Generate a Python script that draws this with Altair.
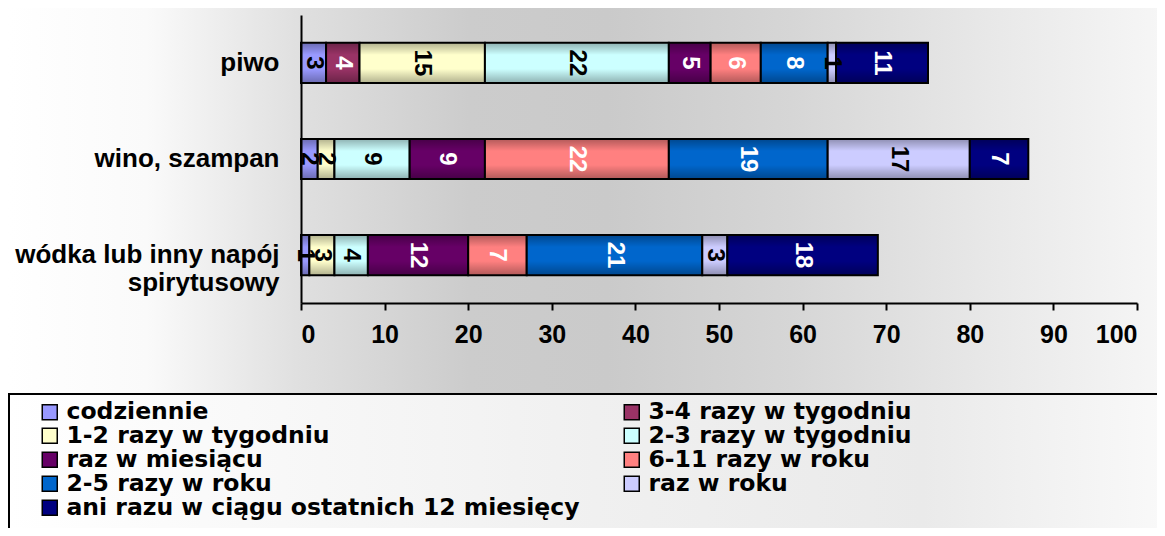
import altair as alt
import pandas as pd

cats = ["piwo", "wino, szampan", "wódka lub inny napój|spirytusowy" + "\u00a0" * 8]
series = ["codziennie", "3-4 razy w tygodniu", "1-2 razy w tygodniu", "2-3 razy w tygodniu",
          "raz w miesiącu", "6-11 razy w roku", "2-5 razy w roku", "raz w roku",
          "ani razu w ciągu ostatnich 12 miesięcy"]
colors = ["#9999FF", "#993366", "#FFFFCC", "#CCFFFF", "#660066", "#FF8080", "#0066CC", "#CCCCFF", "#000080"]
dark_series = ["3-4 razy w tygodniu", "raz w miesiącu", "6-11 razy w roku", "2-5 razy w roku",
               "ani razu w ciągu ostatnich 12 miesięcy"]
# legend fills its two columns top-down, so list entries column by column
legend_order = ["codziennie", "1-2 razy w tygodniu", "raz w miesiącu", "2-5 razy w roku",
                "ani razu w ciągu ostatnich 12 miesięcy",
                "3-4 razy w tygodniu", "2-3 razy w tygodniu", "6-11 razy w roku", "raz w roku"]
x_ticks = [0, 10, 20, 30, 40, 50, 60, 70, 80, 90, 100]

# values per series: [piwo, wino, wódka]
codziennie = [3, 2, 1]
r34_tydz = [4, 0, 0]
r12_tydz = [15, 2, 3]
r23_tydz = [22, 9, 4]
raz_mies = [5, 9, 12]
r611_rok = [6, 22, 7]
r25_rok = [8, 19, 21]
raz_rok = [1, 17, 3]
ani_razu = [11, 7, 18]
vals = [codziennie, r34_tydz, r12_tydz, r23_tydz, raz_mies, r611_rok, r25_rok, raz_rok, ani_razu]

rows = []
for si, s in enumerate(series):
    for ci, c in enumerate(cats):
        rows.append({"cat": c, "series": s, "value": vals[si][ci], "ord": si})
df = pd.DataFrame(rows)

color_of = dict(zip(series, colors))
legend_colors = [color_of[s] for s in legend_order]

FONT = "Liberation Sans"
LFONT = "DejaVu Sans"
W, H = 836, 288

xscale = alt.Scale(domain=[0, 100], nice=False)
yscale = alt.Scale(paddingInner=0.583, paddingOuter=0.29)

xaxis = alt.Axis(title=None, values=x_ticks, grid=False, zindex=2,
                 domainColor="black", domainWidth=2, tickColor="black", tickWidth=2, tickSize=7,
                 labelFont=FONT, labelFontWeight="bold", labelColor="black",
                 labelFontSize=25, labelPadding=12)
yaxis = alt.Axis(title=None, labelExpr="split(datum.label, '|')", zindex=2,
                 domainColor="black", domainWidth=2, ticks=False,
                 labelFont=FONT, labelFontWeight="bold", labelColor="black",
                 labelFontSize=26, labelPadding=22, labelLineHeight=28, labelLimit=400)

base = alt.Chart(df).transform_filter("datum.value > 0")

bg = alt.Chart(alt.Data(values=[{}])).mark_rect(
    fill=alt.LinearGradient(gradient="linear", x1=0, y1=0, x2=1, y2=0, stops=[
        alt.GradientStop(offset=0, color="#ffffff"),
        alt.GradientStop(offset=0.12, color="#fafafa"),
        alt.GradientStop(offset=0.25, color="#e0e0e0"),
        alt.GradientStop(offset=0.40, color="#cccccc"),
        alt.GradientStop(offset=0.52, color="#cacaca"),
        alt.GradientStop(offset=0.68, color="#d6d6d6"),
        alt.GradientStop(offset=0.85, color="#e8e8e8"),
        alt.GradientStop(offset=1, color="#f6f6f6"),
    ])
).encode(x=alt.value(-293), x2=alt.value(860), y=alt.value(-7), y2=alt.value(515))

bars = base.mark_bar(stroke="black", strokeWidth=2).encode(
    x=alt.X("value:Q", stack="zero", scale=xscale, axis=xaxis),
    y=alt.Y("cat:N", sort=cats, scale=yscale, axis=yaxis),
    color=alt.Color("series:N", scale=alt.Scale(domain=legend_order, range=legend_colors),
                    sort=legend_order,
                    legend=alt.Legend(title=None, orient="none", legendX=-263, legendY=385,
                                      columns=2, columnPadding=40, rowPadding=-2.7,
                                      symbolType="square", symbolSize=225,
                                      symbolStrokeColor="black", symbolStrokeWidth=1.5,
                                      symbolOpacity=1,
                                      labelFont=LFONT, labelFontSize=23.5, labelFontWeight="bold",
                                      labelColor="black", labelLimit=800, labelOffset=5,
                                      padding=0)),
    order=alt.Order("ord:Q"),
)

shade = base.mark_bar(
    fill=alt.LinearGradient(gradient="linear", x1=0, y1=0, x2=0, y2=1, stops=[
        alt.GradientStop(offset=0, color="rgba(0,0,0,0.30)"),
        alt.GradientStop(offset=0.3, color="rgba(0,0,0,0)"),
        alt.GradientStop(offset=0.65, color="rgba(0,0,0,0)"),
        alt.GradientStop(offset=1, color="rgba(0,0,0,0.30)"),
    ])
).encode(
    x=alt.X("value:Q", stack="zero", scale=xscale, axis=xaxis),
    y=alt.Y("cat:N", sort=cats, scale=yscale, axis=yaxis),
    detail="series:N",
    order=alt.Order("ord:Q"),
)

labels = base.transform_stack(
    stack="value", groupby=["cat"], sort=[alt.SortField("ord")], as_=["x0", "x1"]
).transform_calculate(mid="(datum.x0 + datum.x1) / 2").mark_text(
    angle=90, font=FONT, fontSize=24, fontWeight="bold", align="center", baseline="middle"
).encode(
    x=alt.X("mid:Q", scale=xscale, axis=xaxis),
    y=alt.Y("cat:N", sort=cats, scale=yscale, axis=yaxis),
    text=alt.Text("value:Q"),
    color=alt.condition(alt.FieldOneOfPredicate(field="series", oneOf=dark_series),
                        alt.value("white"), alt.value("black")),
)

legbox = alt.Chart(alt.Data(values=[{}])).mark_rect(
    stroke="black", strokeWidth=2,
    fill=alt.LinearGradient(gradient="linear", x1=0, y1=0, x2=1, y2=0, stops=[
        alt.GradientStop(offset=0, color="#ffffff"),
        alt.GradientStop(offset=0.5, color="#f0f0f0"),
        alt.GradientStop(offset=0.78, color="#eaeaea"),
        alt.GradientStop(offset=1, color="#fafafa"),
    ])
).encode(x=alt.value(-292), x2=alt.value(880), y=alt.value(379), y2=alt.value(540))

chart = alt.layer(bg, legbox, bars, shade, labels).properties(
    width=W, height=H,
    autosize=alt.AutoSizeParams(type="none"),
    padding={"left": 293, "top": 7, "right": 20, "bottom": 225},
).configure_view(stroke=None)

chart.save("out.html", embed_options={"renderer": "svg", "actions": False})
